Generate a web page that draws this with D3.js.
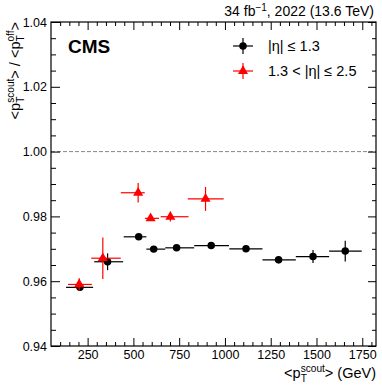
<!DOCTYPE html>
<html><head><meta charset="utf-8">
<script src="https://cdn.jsdelivr.net/npm/d3@7"></script>
<style>
html,body{margin:0;padding:0;background:#fff;}
svg{display:block;}
text{font-family:"Liberation Sans",Arial,Helvetica,sans-serif;}
</style></head>
<body>
<svg id="c" width="382" height="386"></svg>
<script>
// ---- data ----
const centralX   = [208, 359, 529, 611, 736, 925, 1115, 1293, 1481, 1657];
const centralXLo = [132, 286, 447, 571, 674, 832, 1024, 1205, 1387, 1569];
const centralXHi = [280, 444, 571, 674, 832, 1022, 1205, 1387, 1569, 1747];
const centralY   = [0.9581, 0.9660, 0.9737, 0.9699, 0.9703, 0.9710, 0.9700, 0.9666, 0.9676, 0.9693];
const centralYErr= [0.0004, 0.0026, 0.0005, 0.0004, 0.0004, 0.0004, 0.0004, 0.0011, 0.0020, 0.0032];

const forwardX   = [204, 333, 526, 594, 702, 894];
const forwardXLo = [143, 270, 431, 563, 649, 797];
const forwardXHi = [273, 431, 562, 640, 801, 993];
const forwardY   = [0.9590, 0.9671, 0.9873, 0.9794, 0.9799, 0.9854];
const forwardYErr= [0.0019, 0.0064, 0.0030, 0.0005, 0.0015, 0.0037];

const xMajorTicks = [250, 500, 750, 1000, 1250, 1500, 1750];
const yMajorTicks = [0.94, 0.96, 0.98, 1.00, 1.02, 1.04];
const legendLabels = ["|η| ≤ 1.3", "1.3 < |η| ≤ 2.5"];

// ---- layout ----
const svg = d3.select("#c");
const L = 51, R = 376, T = 22, B = 346;
const x = d3.scaleLinear().domain([50, 1825]).range([L, R]);
const y = d3.scaleLinear().domain([0.94, 1.04]).range([B, T]);
const xMinor = d3.range(100, 1825, 50).filter(v => v % 250 !== 0);
const yMinor = d3.range(0, 21).map(i => 0.94 + i * 0.005).filter((v,i) => i % 4 !== 0);

// reference dashed line
svg.append("line").attr("x1", L).attr("x2", R).attr("y1", y(1.0)).attr("y2", y(1.0))
  .attr("stroke", "#888").attr("stroke-width", 1).attr("stroke-dasharray", "4,2");

function styleAxis(g){ g.select(".domain").remove(); g.selectAll("line").attr("stroke","#000"); }
const fs = 12.5;
// bottom axis
svg.append("g").attr("transform", `translate(0,${B})`)
  .call(d3.axisBottom(x).tickValues(xMajorTicks).tickSize(-8).tickPadding(4).tickFormat(d3.format("d")))
  .call(styleAxis).call(g => g.selectAll("text").attr("font-size", fs).attr("fill","#000").attr("font-family","Liberation Sans, Arial"));
svg.append("g").attr("transform", `translate(0,${B})`)
  .call(d3.axisBottom(x).tickValues(xMinor).tickSize(-4).tickFormat(""))
  .call(styleAxis);
// top axis
svg.append("g").attr("transform", `translate(0,${T})`)
  .call(d3.axisTop(x).tickValues(xMajorTicks).tickSize(-8).tickFormat(""))
  .call(styleAxis);
svg.append("g").attr("transform", `translate(0,${T})`)
  .call(d3.axisTop(x).tickValues(xMinor).tickSize(-4).tickFormat(""))
  .call(styleAxis);
// left axis
svg.append("g").attr("transform", `translate(${L},0)`)
  .call(d3.axisLeft(y).tickValues(yMajorTicks).tickSize(-9).tickPadding(4).tickFormat(d3.format(".2f")))
  .call(styleAxis).call(g => g.selectAll("text").attr("font-size", fs).attr("fill","#000").attr("font-family","Liberation Sans, Arial"));
svg.append("g").attr("transform", `translate(${L},0)`)
  .call(d3.axisLeft(y).tickValues(yMinor).tickSize(-5).tickFormat(""))
  .call(styleAxis);
// right axis
svg.append("g").attr("transform", `translate(${R},0)`)
  .call(d3.axisRight(y).tickValues(yMajorTicks).tickSize(-8).tickFormat(""))
  .call(styleAxis);
svg.append("g").attr("transform", `translate(${R},0)`)
  .call(d3.axisRight(y).tickValues(yMinor).tickSize(-4).tickFormat(""))
  .call(styleAxis);
// frame
svg.append("rect").attr("x", L).attr("y", T).attr("width", R-L).attr("height", B-T)
  .attr("fill","none").attr("stroke","#000").attr("stroke-width",1.2);

// data
function drawSeries(xs, lo, hi, ys, ye, color, shape){
  const g = svg.append("g");
  xs.forEach((xv, i) => {
    g.append("line").attr("x1", x(lo[i])).attr("x2", x(hi[i])).attr("y1", y(ys[i])).attr("y2", y(ys[i]))
      .attr("stroke", color).attr("stroke-width", 1.2);
    g.append("line").attr("x1", x(xv)).attr("x2", x(xv)).attr("y1", y(ys[i]-ye[i])).attr("y2", y(ys[i]+ye[i]))
      .attr("stroke", color).attr("stroke-width", 1.2);
  });
  g.selectAll("path.m").data(xs).join("path")
    .attr("d", d3.symbol().type(shape).size(shape === d3.symbolCircle ? 44 : 44))
    .attr("transform", (d,i) => `translate(${x(d)},${y(ys[i])})`)
    .attr("fill", color);
}
drawSeries(centralX, centralXLo, centralXHi, centralY, centralYErr, "#000", d3.symbolCircle);
drawSeries(forwardX, forwardXLo, forwardXHi, forwardY, forwardYErr, "#ff0000", d3.symbolTriangle);

// legend
const legY = [46, 71];
[["#000", d3.symbolCircle], ["#ff0000", d3.symbolTriangle]].forEach(([col, sh], i) => {
  const cx = 243, cy = legY[i];
  svg.append("line").attr("x1", cx-10).attr("x2", cx+10).attr("y1", cy).attr("y2", cy).attr("stroke", col).attr("stroke-width",1.2);
  svg.append("line").attr("x1", cx).attr("x2", cx).attr("y1", cy-8).attr("y2", cy+8).attr("stroke", col).attr("stroke-width",1.2);
  svg.append("path").attr("d", d3.symbol().type(sh).size(44)).attr("transform", `translate(${cx},${cy})`).attr("fill", col);
  svg.append("text").attr("x", 268).attr("y", cy + 5).attr("font-size", 14.5).text(legendLabels[i]);
});

// CMS label
svg.append("text").attr("x", 68).attr("y", 53).attr("font-size", 19).attr("font-weight", "bold").text("CMS");

// top title
const tt = svg.append("text").attr("x", 374).attr("y", 16).attr("text-anchor", "end").attr("font-size", 14);
tt.append("tspan").text("34 fb");
tt.append("tspan").attr("dy", -5).attr("font-size", 10).text("−1");
tt.append("tspan").attr("dy", 5).text(", 2022 (13.6 TeV)");

// pT label builder
function buildPT(g, parts, size){
  let cx = 0;
  parts.forEach(p => {
    if (typeof p === "string") {
      const t = g.append("text").attr("x", cx).attr("y", 0).attr("font-size", size).text(p);
      cx += t.node().getComputedTextLength();
    } else {
      const s1 = g.append("text").attr("x", cx).attr("y", size*0.3).attr("font-size", size*0.7).text(p.sub);
      const s2 = g.append("text").attr("x", cx).attr("y", -size*0.42).attr("font-size", size*0.7).text(p.sup);
      cx += Math.max(s1.node().getComputedTextLength(), s2.node().getComputedTextLength());
    }
  });
  return cx;
}
// x title
const xt = svg.append("g");
const xw = buildPT(xt, ["<p", {sub:"T", sup:"scout"}, "> (GeV)"], 14.5);
xt.attr("transform", `translate(${376 - xw},378)`);
// y title
const yt = svg.append("g");
const yw = buildPT(yt, ["<p", {sub:"T", sup:"scout"}, ">  /  <p", {sub:"T", sup:"off"}, ">"], 14.5);
yt.attr("transform", `translate(20,${22 + yw}) rotate(-90)`);
</script>
</body></html>
